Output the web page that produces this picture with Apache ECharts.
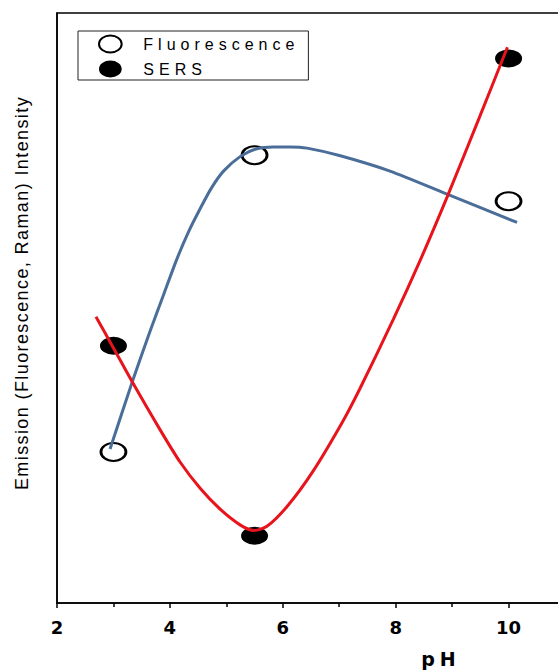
<!DOCTYPE html>
<html>
<head>
<meta charset="utf-8">
<script src="https://cdn.jsdelivr.net/npm/echarts@6/dist/echarts.min.js"></script>
<style>
  html, body { margin: 0; padding: 0; background: #fff; }
  #chart { width: 558px; height: 671px; }
  /* spaced lettering used by the figure's labels */
  #chart svg text[style*="16px"] { letter-spacing: 5px; }
  #chart svg text[style*="18px"][style*="Liberation"] { letter-spacing: 1.4px; }
  #chart svg text[style*="19px"] { letter-spacing: 5px; }
</style>
</head>
<body>
<div id="chart"></div>
<script>
// Measured intensities (arbitrary units) at each pH
const fluorescencePH = [3, 5.5, 10];
const fluorescenceValues = [25.6, 75.9, 68.1];
const sersPH = [3, 5.5, 10];
const sersValues = [43.6, 11.4, 92.3];

// Fitted trend curves
const fluorescenceFitPH = [2.94, 3.32, 3.65, 3.89, 4.12, 4.33, 4.54, 4.74, 4.95, 5.25, 5.54, 5.83, 6.13, 6.43, 7.02, 7.90, 8.91, 10.15];
const fluorescenceFitValues = [26.1, 37.1, 46.1, 52.3, 58.2, 62.9, 66.9, 70.4, 73.2, 75.7, 77.0, 77.3, 77.3, 77.1, 75.8, 73.2, 69.3, 64.5];
const sersFitPH = [2.69, 2.99, 3.32, 3.83, 4.18, 4.54, 4.89, 5.25, 5.49, 5.72, 6.08, 6.54, 7.07, 7.37, 7.96, 8.44, 8.92, 9.45, 9.98];
const sersFitValues = [48.5, 43.4, 37.7, 29.3, 23.9, 19.4, 15.9, 13.2, 12.3, 13.0, 16.4, 22.4, 30.9, 36.4, 48.1, 58.2, 69.0, 81.5, 94.2];

const xTickLabels = ['2', '4', '6', '8', '10'];

const zip = (xs, ys) => xs.map((x, i) => [x, ys[i]]);
const ellipse = 'path://M0,9 A12,9 0 1,1 24,9 A12,9 0 1,1 0,9 Z';

const chart = echarts.init(document.getElementById('chart'), null, { renderer: 'svg' });

chart.setOption({
  animation: false,
  backgroundColor: '#fff',
  grid: {
    left: 57, top: 13, right: -7, bottom: 68,
    containLabel: false, outerBoundsMode: 'none',
    show: true, borderColor: '#000', borderWidth: 1.5
  },
  xAxis: {
    type: 'value', min: 2, max: 11, interval: 2,
    axisLine: { lineStyle: { color: '#000', width: 1.5 } },
    axisTick: { inside: false, length: 5, lineStyle: { color: '#000', width: 1.5 } },
    minorTick: { show: true, splitNumber: 2, length: 4, lineStyle: { color: '#000', width: 1.5 } },
    splitLine: { show: false },
    axisLabel: {
      margin: 15, color: '#000',
      fontFamily: 'DejaVu Sans', fontWeight: 'bold', fontSize: 18,
      formatter: v => xTickLabels.includes(String(v)) ? String(v) : ''
    }
  },
  yAxis: {
    type: 'value', min: 0, max: 100,
    axisLine: { show: true, lineStyle: { color: '#000', width: 1.5 } },
    axisTick: { show: false },
    axisLabel: { show: false },
    splitLine: { show: false }
  },
  legend: {
    data: ['Fluorescence', 'SERS'],
    orient: 'vertical',
    left: 78, top: 31,
    padding: [3.5, 69, 2.5, 20],
    itemGap: 7, itemWidth: 24, itemHeight: 17,
    borderColor: '#222', borderWidth: 1,
    textStyle: { fontFamily: 'Liberation Sans', fontSize: 16, color: '#000', padding: [0, 0, 0, 16] }
  },
  graphic: [
    {
      type: 'text', x: 22, y: 293, rotation: Math.PI / 2,
      style: {
        text: 'Emission (Fluorescence, Raman) Intensity',
        fontFamily: 'Liberation Sans', fontSize: 18, fill: '#000',
        align: 'center', verticalAlign: 'middle'
      }
    },
    {
      type: 'text', x: 441, y: 659,
      style: {
        text: 'pH',
        fontFamily: 'DejaVu Sans', fontWeight: 'bold', fontSize: 19, fill: '#000',
        align: 'center', verticalAlign: 'middle'
      }
    }
  ],
  series: [
    {
      name: 'Fluorescence', type: 'scatter', z: 2,
      symbol: ellipse, symbolSize: [25, 18],
      itemStyle: { color: '#fff', borderColor: '#000', borderWidth: 2.4, opacity: 1 },
      data: zip(fluorescencePH, fluorescenceValues)
    },
    {
      name: 'SERS', type: 'scatter', z: 2,
      symbol: ellipse, symbolSize: [27, 18],
      itemStyle: { color: '#000', borderColor: '#000', borderWidth: 0, opacity: 1 },
      data: zip(sersPH, sersValues)
    },
    {
      name: 'Fluorescence fit', type: 'line', z: 3,
      smooth: 0.25, showSymbol: false, symbol: 'none',
      lineStyle: { color: '#4a6d99', width: 3 },
      data: zip(fluorescenceFitPH, fluorescenceFitValues)
    },
    {
      name: 'SERS fit', type: 'line', z: 3,
      smooth: 0.25, showSymbol: false, symbol: 'none',
      lineStyle: { color: '#e8141c', width: 3 },
      data: zip(sersFitPH, sersFitValues)
    }
  ]
});
</script>
</body>
</html>
